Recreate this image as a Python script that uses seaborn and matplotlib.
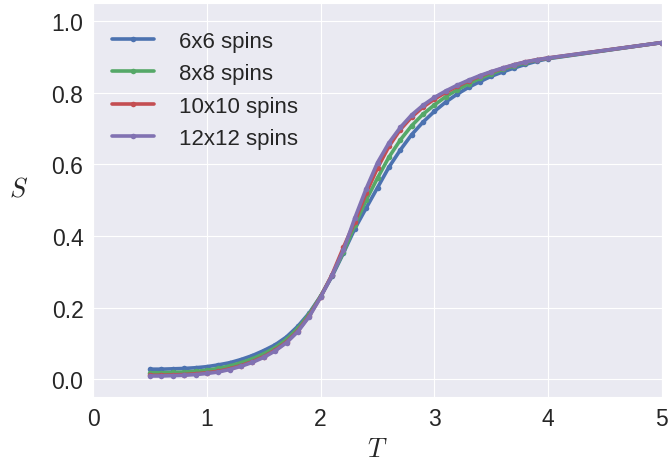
import numpy as np
import pandas as pd
import matplotlib
matplotlib.use("Agg")
import matplotlib.pyplot as plt
import seaborn as sns

T = [0.5, 0.6, 0.7, 0.8, 0.9, 1.0, 1.1, 1.2, 1.3, 1.4, 1.5, 1.6, 1.7, 1.8, 1.9,
     2.0, 2.1, 2.2, 2.3, 2.4, 2.5, 2.6, 2.7, 2.8, 2.9, 3.0, 3.1, 3.2, 3.3, 3.4,
     3.5, 3.6, 3.7, 3.8, 3.9, 4.0, 5.0]

s_6x6 = [0.028, 0.028, 0.029, 0.030, 0.032, 0.035, 0.040, 0.046, 0.055, 0.066,
         0.080, 0.096, 0.118, 0.148, 0.185, 0.232, 0.287, 0.352, 0.420, 0.478,
         0.535, 0.592, 0.640, 0.683, 0.718, 0.748, 0.774, 0.796, 0.815, 0.831,
         0.846, 0.858, 0.869, 0.879, 0.888, 0.895, 0.940]
s_8x8 = [0.018, 0.018, 0.019, 0.020, 0.022, 0.025, 0.030, 0.037, 0.046, 0.057,
         0.071, 0.088, 0.111, 0.142, 0.182, 0.232, 0.290, 0.354, 0.430, 0.500,
         0.562, 0.620, 0.668, 0.708, 0.740, 0.766, 0.789, 0.808, 0.825, 0.840,
         0.853, 0.865, 0.875, 0.884, 0.891, 0.896, 0.940]
s_10x10 = [0.011, 0.011, 0.012, 0.013, 0.015, 0.018, 0.022, 0.029, 0.038, 0.049,
           0.063, 0.081, 0.104, 0.135, 0.177, 0.230, 0.292, 0.368, 0.440, 0.520,
           0.590, 0.650, 0.697, 0.732, 0.760, 0.782, 0.801, 0.818, 0.833, 0.846,
           0.858, 0.868, 0.878, 0.886, 0.892, 0.897, 0.940]
s_12x12 = [0.009, 0.009, 0.010, 0.011, 0.013, 0.016, 0.020, 0.027, 0.036, 0.047,
           0.061, 0.079, 0.102, 0.133, 0.175, 0.229, 0.290, 0.360, 0.450, 0.532,
           0.605, 0.660, 0.703, 0.738, 0.765, 0.787, 0.805, 0.821, 0.835, 0.848,
           0.859, 0.869, 0.878, 0.886, 0.892, 0.897, 0.940]

labels = ["6x6 spins", "8x8 spins", "10x10 spins", "12x12 spins"]
series = [s_6x6, s_8x8, s_10x10, s_12x12]
colors = ["#4C72B0", "#55A868", "#C44E52", "#8172B2"]

df = pd.concat([pd.DataFrame({"T": T, "S": s, "size": lab})
                for s, lab in zip(series, labels)], ignore_index=True)

sns.set_style("darkgrid")
plt.rcParams["font.family"] = ["Liberation Sans", "DejaVu Sans"]
plt.rcParams["mathtext.fontset"] = "cm"

fig = plt.figure(figsize=(6.7, 4.64), dpi=100)
ax = fig.add_axes([0.139, 0.142, 0.849, 0.849])
sns.lineplot(data=df, x="T", y="S", hue="size", palette=colors, marker="o",
             markersize=4, markeredgewidth=0, linewidth=2.6, ax=ax, legend=True)

ax.set_xlim(0, 5)
ax.set_ylim(-0.05, 1.05)
ax.set_xticks([0, 1, 2, 3, 4, 5])
ax.set_yticks([0.0, 0.2, 0.4, 0.6, 0.8, 1.0])
ax.set_yticklabels(["0.0", "0.2", "0.4", "0.6", "0.8", "1.0"])
ax.tick_params(labelsize=16.5, colors="#262626")
ax.set_xlabel(r"$T$", fontsize=19, labelpad=5)
ax.set_ylabel(r"$S$", fontsize=19, rotation=0, labelpad=24)

ax.legend(loc="upper left", bbox_to_anchor=(0.0176, 0.953), borderaxespad=0,
          frameon=False, fontsize=16, handlelength=1.9, handletextpad=1.1,
          labelspacing=0.52)

fig.savefig("out.png", dpi=100)
